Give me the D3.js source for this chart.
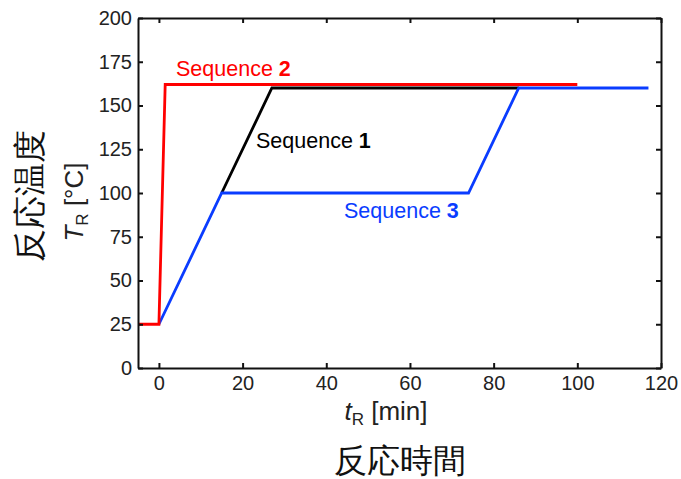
<script src="https://cdn.jsdelivr.net/npm/d3@7"></script>
<style>
  body { margin: 0; background: #fff; }
  text { font-family: "Liberation Sans", Arial, sans-serif; }
</style>
<svg id="chart" width="681" height="479"></svg>
<script>
// heating profiles: reaction time [min] vs reactor temperature [°C]
var seq1 = [[15, 100], [27, 160], [86, 160]];
var seq2 = [[-5, 25], [0, 25], [1.5, 162], [100, 162]];
var seq3 = [[0, 25], [15, 100], [74, 100], [86, 160], [117, 160]];

var xTicks = [0, 20, 40, 60, 80, 100, 120];
var yTicks = [0, 25, 50, 75, 100, 125, 150, 175, 200];

var svg = d3.select("#chart");
var mLeft = 138, mRight = 661, mTop = 18, mBottom = 368;

var x = d3.scaleLinear().domain([-5, 120]).range([mLeft, mRight]);
var y = d3.scaleLinear().domain([0, 200]).range([mBottom, mTop]);

var line = d3.line().x(d => x(d[0])).y(d => y(d[1]));

// series: black under blue under red
[[seq1, "#000"], [seq3, "#0a3cff"], [seq2, "#ff0000"]].forEach(s => {
    svg.append("path")
        .attr("d", line(s[0]))
        .attr("fill", "none")
        .attr("stroke", s[1])
        .attr("stroke-width", 2.8)
        .attr("stroke-linejoin", "miter");
});

// axes with inward ticks
var fmt = d3.format("d");
var axB = svg.append("g").attr("transform", "translate(0," + mBottom + ")")
    .call(d3.axisBottom(x).tickValues(xTicks).tickSizeInner(-5).tickSizeOuter(0).tickPadding(8).tickFormat(fmt));
var axT = svg.append("g").attr("transform", "translate(0," + mTop + ")")
    .call(d3.axisTop(x).tickValues(xTicks).tickSizeInner(-5).tickSizeOuter(0).tickFormat(""));
var axL = svg.append("g").attr("transform", "translate(" + mLeft + ",0)")
    .call(d3.axisLeft(y).tickValues(yTicks).tickSizeInner(-5).tickSizeOuter(0).tickPadding(6).tickFormat(fmt));
var axR = svg.append("g").attr("transform", "translate(" + mRight + ",0)")
    .call(d3.axisRight(y).tickValues(yTicks).tickSizeInner(-5).tickSizeOuter(0).tickFormat(""));

svg.selectAll(".domain").attr("stroke", "#111").attr("stroke-width", 2);
svg.selectAll(".tick line").attr("stroke", "#111").attr("stroke-width", 2);
svg.selectAll(".tick text").attr("font-size", 20).attr("fill", "#222")
    .attr("font-family", "Liberation Sans, Arial, sans-serif");
axB.selectAll(".tick text").attr("dy", "0.71em");

// series labels
function seqLabel(txt, num, col, px, py) {
    var t = svg.append("text").attr("x", px).attr("y", py)
        .attr("font-size", 21.5).attr("fill", col);
    t.append("tspan").text(txt + " ");
    t.append("tspan").attr("font-weight", "bold").text(num);
}
seqLabel("Sequence", "2", "#ff0000", 176, 76);
seqLabel("Sequence", "1", "#000", 256, 148);
seqLabel("Sequence", "3", "#0a3cff", 344, 218);

// axis titles
var xt = svg.append("text").attr("x", 386).attr("y", 420).attr("text-anchor", "middle")
    .attr("font-size", 26).attr("fill", "#222");
xt.append("tspan").attr("font-style", "italic").text("t");
xt.append("tspan").attr("font-size", 17).attr("dy", 5).text("R");
xt.append("tspan").attr("dy", -5).text(" [min]");

var yt = svg.append("text").attr("transform", "translate(83,202) rotate(-90)")
    .attr("text-anchor", "middle").attr("font-size", 26).attr("fill", "#222");
yt.append("tspan").attr("font-style", "italic").text("T");
yt.append("tspan").attr("font-size", 17).attr("dy", 5).text("R");
yt.append("tspan").attr("dy", -5).text(" [°C]");

svg.append("text").attr("x", 400).attr("y", 460).attr("text-anchor", "middle")
    .attr("dominant-baseline", "central")
    .attr("font-family", "Noto Sans CJK JP").attr("font-size", 33).attr("fill", "#111")
    .text("反応時間");
svg.append("text").attr("transform", "translate(29,196) rotate(-90)")
    .attr("text-anchor", "middle").attr("dominant-baseline", "central")
    .attr("font-family", "Noto Sans CJK JP").attr("font-size", 33).attr("fill", "#111")
    .text("反応温度");
</script>
